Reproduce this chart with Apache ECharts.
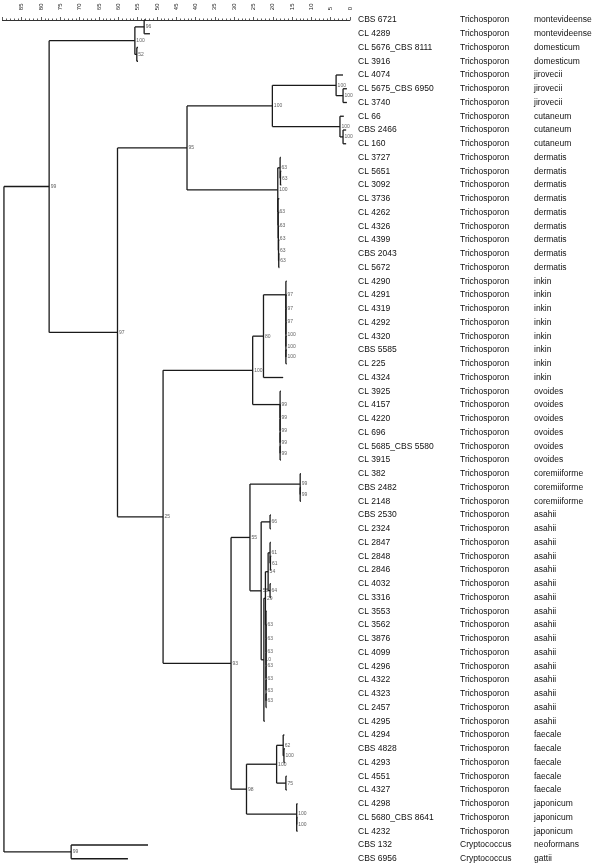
<!DOCTYPE html>
<html><head><meta charset="utf-8">
<script src="https://cdn.jsdelivr.net/npm/echarts@6/dist/echarts.min.js"></script>
<style>html,body{margin:0;padding:0;background:#fff}#c{width:600px;height:867px}</style>
</head><body><div id="c"></div>
<script>
// ---- data ----
const strains = ['CBS 6721','CL 4289','CL 5676_CBS 8111','CL 3916','CL 4074','CL 5675_CBS 6950','CL 3740','CL 66','CBS 2466','CL 160',
 'CL 3727','CL 5651','CL 3092','CL 3736','CL 4262','CL 4326','CL 4399','CBS 2043','CL 5672',
 'CL 4290','CL 4291','CL 4319','CL 4292','CL 4320','CBS 5585','CL 225','CL 4324',
 'CL 3925','CL 4157','CL 4220','CL 696','CL 5685_CBS 5580','CL 3915',
 'CL 382','CBS 2482','CL 2148',
 'CBS 2530','CL 2324','CL 2847','CL 2848','CL 2846','CL 4032','CL 3316','CL 3553','CL 3562','CL 3876','CL 4099','CL 4296','CL 4322','CL 4323','CL 2457','CL 4295',
 'CL 4294','CBS 4828','CL 4293','CL 4551','CL 4327','CL 4298','CL 5680_CBS 8641','CL 4232','CBS 132','CBS 6956'];
const genus = strains.map((s,i)=> i>=60 ? 'Cryptococcus' : 'Trichosporon');
const species = ['montevideense','montevideense','domesticum','domesticum','jirovecii','jirovecii','jirovecii','cutaneum','cutaneum','cutaneum',
 'dermatis','dermatis','dermatis','dermatis','dermatis','dermatis','dermatis','dermatis','dermatis',
 'inkin','inkin','inkin','inkin','inkin','inkin','inkin','inkin',
 'ovoides','ovoides','ovoides','ovoides','ovoides','ovoides',
 'coremiiforme','coremiiforme','coremiiforme',
 'asahii','asahii','asahii','asahii','asahii','asahii','asahii','asahii','asahii','asahii','asahii','asahii','asahii','asahii','asahii','asahii',
 'faecale','faecale','faecale','faecale','faecale','japonicum','japonicum','japonicum','neoformans','gattii'];
// where each leaf branch ends (scale value)
const leafEnds = [53.0,51.8,54.9,54.9,1.8,0.8,0.8,1.6,1.0,1.0,
 17.9,17.8,17.8,18.3,18.3,18.3,18.3,18.3,18.3,
 16.4,16.4,16.4,16.4,16.4,16.4,16.4,17.3,
 17.9,17.9,17.9,17.9,17.9,17.9,
 12.7,12.7,12.7,
 20.5,20.5,20.5,20.4,20.4,20.5,20.5,21.6,21.6,21.6,21.6,21.6,21.6,21.6,21.6,22.1,
 17.0,16.9,16.9,16.4,16.4,13.6,13.6,13.6,52.3,57.5];
// clusters: [height, childA, childB, support]; number = leaf row, 'c#' = cluster index
const clusters = [
 [53.3,0,1,'96'],[55.2,2,3,'52'],[55.7,'c0','c1','100'],
 [1.8,5,6,'100'],[3.6,4,'c3','100'],[1.8,8,9,'100'],[2.6,7,'c5','100'],[20.1,'c4','c6','100'],
 [18.0,11,12,'63'],[18.1,10,'c8','63'],[18.45,17,18,'63'],[18.5,16,'c10','63'],[18.55,15,'c11','63'],[18.6,14,'c12','63'],[18.65,13,'c13','63'],[18.7,'c9','c14','100'],
 [42.2,'c7','c15','95'],
 [16.6,24,25,'100'],[16.6,23,'c17','100'],[16.6,22,'c18','100'],[16.6,21,'c19','97'],[16.6,20,'c20','97'],[16.6,19,'c21','97'],[22.4,'c22',26,'80'],
 [18.1,31,32,'99'],[18.1,30,'c24','99'],[18.1,29,'c25','99'],[18.1,28,'c26','99'],[18.1,27,'c27','99'],[25.2,'c23','c28','100'],
 [12.9,34,35,'99'],[12.9,33,'c30','99'],
 [20.7,36,37,'66'],[20.6,39,40,'61'],[20.7,38,'c33','61'],[20.7,41,42,'64'],[21.2,'c34','c35','54'],
 [21.75,49,50,'63'],[21.75,48,'c37','63'],[21.75,47,'c38','63'],[21.75,46,'c39','63'],[21.75,45,'c40','63'],[21.75,44,'c41','63'],[21.75,43,'c42','63'],
 [21.9,'c36','c43','29'],[22.3,'c44',51,'10'],[23.0,'c32','c45','58'],[25.9,'c31','c46','55'],
 [17.1,53,54,'100'],[17.3,52,'c48','62'],[16.6,55,56,'75'],[19.0,'c49','c50','100'],
 [13.8,58,59,'100'],[13.8,57,'c52','100'],[26.8,'c51','c53','98'],
 [30.8,'c47','c54','93'],[48.4,'c29','c55','25'],[60.2,'c16','c56','97'],[77.9,'c2','c57','99'],
 [72.2,60,61,'99'],[89.6,'c58','c59','']
];

// ---- build segments ----
const pos = []; // cluster positions {h,y}
function child(c){
  if (typeof c === 'number') return {h: leafEnds[c], y: c};
  return pos[+c.slice(1)];
}
const segs = [], supports = [];
clusters.forEach((cl,i)=>{
  const [h,a,b,s] = cl;
  const A = child(a), B = child(b);
  const y = (A.y + B.y)/2;
  pos[i] = {h, y};
  segs.push([h, A.y, h, B.y]);
  segs.push([h, A.y, A.h, A.y]);
  segs.push([h, B.y, B.h, B.y]);
  if (s) supports.push([h, y, s]);
});

const chart = echarts.init(document.getElementById('c'), null, {renderer:'canvas'});
const font = 'Liberation Sans, Arial, sans-serif';
function catAxis(data, offset){
  return {type:'category', data, inverse:true, position:'right', offset,
    axisLine:{show:false}, axisTick:{show:false}, splitLine:{show:false},
    axisLabel:{interval:0, margin:8, fontSize:8.5, color:'#111', fontFamily:font}};
}
chart.setOption({
  animation:false,
  grid:{left:2.4, right:250, top:13.125, height:852.5, containLabel:false},
  xAxis:{type:'value', position:'top', inverse:true, min:0, max:90, interval:5,
    axisLine:{lineStyle:{color:'#333', width:1}},
    axisTick:{length:3, lineStyle:{color:'#333', width:0.8}},
    minorTick:{show:true, splitNumber:5, length:1.5, lineStyle:{color:'#333', width:0.8}},
    splitLine:{show:false}, minorSplitLine:{show:false},
    axisLabel:{rotate:90, fontSize:6, margin:3, color:'#222', showMaxLabel:false, fontFamily:font}},
  yAxis:[
    {type:'value', min:-0.5, max:61.5, inverse:true, show:false},
    catAxis(strains, 0), catAxis(genus, 102), catAxis(species, 176)
  ],
  series:[
    {type:'custom', xAxisIndex:0, yAxisIndex:0, data:segs, encode:{x:[0,2], y:[1,3]},
      renderItem:(params, api)=>{
        const p1 = api.coord([api.value(0), api.value(1)]);
        const p2 = api.coord([api.value(2), api.value(3)]);
        return {type:'line', shape:{x1:p1[0], y1:p1[1], x2:p2[0], y2:p2[1]},
          style:{stroke:'#1a1a1a', lineWidth:1.3}};
      }},
    {type:'scatter', xAxisIndex:0, yAxisIndex:0, data:supports, symbolSize:1,
      itemStyle:{color:'rgba(0,0,0,0)'},
      label:{show:true, position:'right', distance:1, fontSize:5, color:'#333', fontFamily:font,
        formatter:p=>p.data[2]}}
  ]
});
</script></body></html>
